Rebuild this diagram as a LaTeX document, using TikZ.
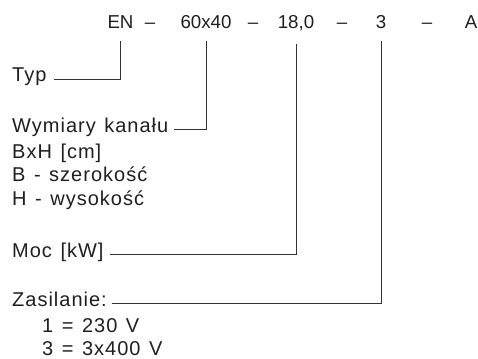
\documentclass[tikz,border=0pt]{standalone}
\usepackage{fontspec}
\setmainfont{Liberation Sans}
\newfontfamily\opisfont[LetterSpace=5,WordSpace=1.3]{Liberation Sans}
\usetikzlibrary{calc}

\tikzset{
  code/.style={anchor=base, inner xsep=0pt, inner ysep=12pt},
  label/.style={anchor=base west, inner xsep=0pt, inner ysep=0pt,
      font=\opisfont\fontsize{20}{24}\selectfont},
  lead/.style={draw=black!80, line width=1pt}
}

\begin{document}
\begin{tikzpicture}[x=1pt, y=-1pt, font=\fontsize{18.7}{22}\selectfont, text=black!88]
  \useasboundingbox (0,0) rectangle (478,358);

  % kod oznaczenia
  \node[code] (en) at (120.5,29) {EN};
  \node[code] (wym) at (206,29) {60x40};
  \node[code] (moc) at (296,29) {18,0};
  \node[code] (zas) at (381,29) {3};
  \node[code] (a) at (471,29) {A};
  \foreach \x [count=\i] in {150,253,342,427}{
      \node[code] (d\i) at (\x,29) {--};
    }

  % opisy
  \node[label] (typ) at (12,82) {Typ};
  \node[label] (wymiary) at (12,132) {Wymiary kanału};
  \node[label] (bxh) at (12,158) {BxH [cm]};
  \node[label] (szer) at (12,181) {B - szerokość};
  \node[label] (wys) at (12,205) {H - wysokość};
  \node[label] (mockw) at (12,257) {Moc [kW]};
  \node[label] (zasil) at (12,306) {Zasilanie:};
  \node[label] (v1) at (42,332) {1 = 230 V};
  \node[label] (v3) at (42,355) {3 = 3x400 V};

  % linie
  \draw[lead] ([xshift=7pt]typ.mid east) -- (typ.mid east -| en.south) -- (en.south);
  \draw[lead] ([xshift=6pt]wymiary.mid east) -- (wymiary.mid east -| wym.south) -- (wym.south);
  \draw[lead] ([xshift=6pt]mockw.mid east) -- (mockw.mid east -| moc.south) -- (moc.south);
  \draw[lead] ([xshift=5pt]zasil.mid east) -- (zasil.mid east -| zas.south) -- (zas.south);
\end{tikzpicture}
\end{document}
